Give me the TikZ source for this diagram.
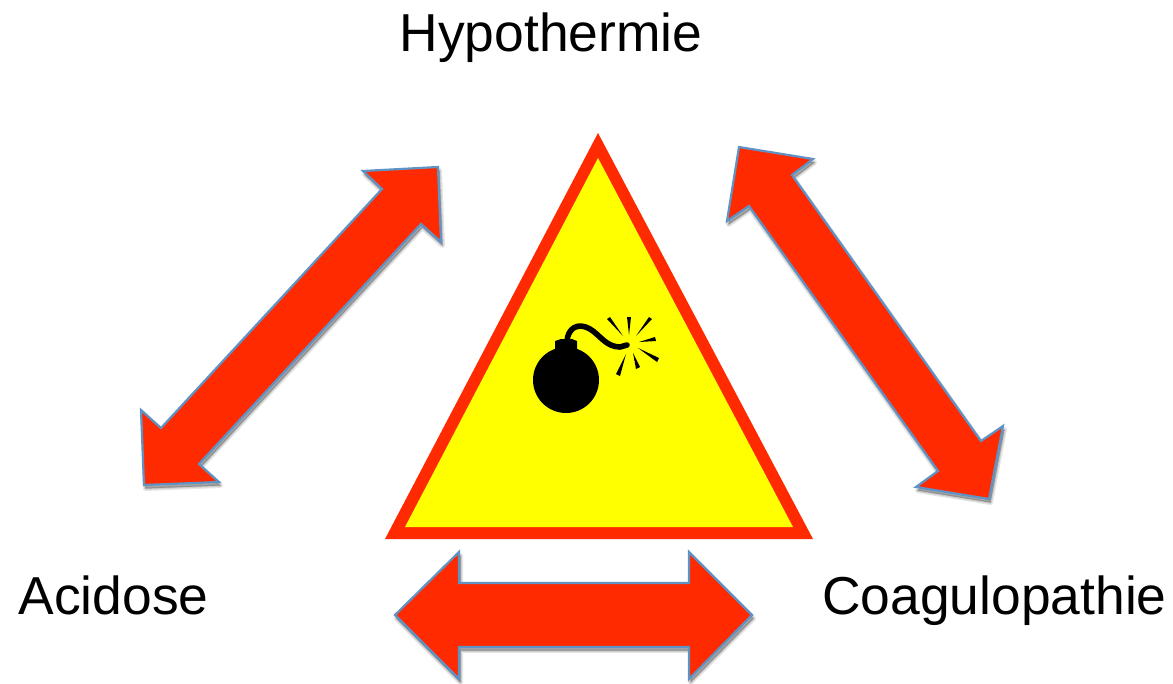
\documentclass[tikz,border=0pt]{standalone}
\usepackage{fontspec}
\setmainfont{Liberation Sans}
\definecolor{arrowred}{HTML}{FF2A00}
\definecolor{arrowedge}{HTML}{5F93C6}
\definecolor{warnyellow}{HTML}{FFFF00}
\tikzset{
  labeltext/.style={anchor=base,inner sep=0pt,font=\fontsize{53.4}{60}\selectfont,text=black},
  softshadow/.style={draw=black,fill=black,draw opacity=.10,fill opacity=.10,line join=round,shift={(1.5,3.5)}},
  bigarrow/.style={draw=arrowedge,fill=arrowred,line width=2.2pt,line join=miter,miter limit=3},
  spark/.style={fill=black,draw=none},
  fuse/.style={draw=black,line width=5.6pt,line cap=round,fill=none}
}
\newcommand{\softarrow}[1]{%
  \path[softshadow,line width=5pt] #1;
  \path[softshadow,line width=2.5pt] #1;
  \path[softshadow,line width=.5pt] #1;
  \path[bigarrow] #1;
}
\begin{document}
\begin{tikzpicture}[x=1pt,y=-1pt]
\useasboundingbox (0,0) rectangle (1173,683);
% warning triangle
\fill[arrowred] (598,133) -- (813,539) -- (385,539) -- cycle;
\fill[warnyellow] (598,158) -- (793,527) -- (405,527) -- cycle;
% bomb
\fill[black] (566,380) circle (33);
\fill[black] (555,349) -- (555,341) -- (561,339) -- (572,339) -- (577,341) -- (577,356) -- (555,356) -- cycle;
\draw[fuse] (567,341) .. controls (568,328) and (578,322) .. (590,329)
  .. controls (600,335) and (606,347) .. (620,347) -- (627,345);
\fill[spark] (607,319) -- (610,317) -- (623,336) -- cycle;
\fill[spark] (627,317) -- (631,317) -- (629,335) -- cycle;
\fill[spark] (649,317) -- (652,319) -- (636,336) -- cycle;
\fill[spark] (655,337) -- (656,341) -- (639,342) -- cycle;
\fill[spark] (659,358) -- (657,362) -- (638,348) -- cycle;
\fill[spark] (640,367) -- (636,369) -- (633,353) -- cycle;
\fill[spark] (620,376) -- (616,374) -- (626,354) -- cycle;
% double arrows
\softarrow{(438,167) -- (363,171) -- (382,189) -- (161,428) -- (141,410) -- (144,485) -- (219,482) -- (199,464) -- (421,224) -- (441,242) -- cycle}
\softarrow{(739,147) -- (813,159) -- (792,175) -- (981,441) -- (1003,426) -- (989,499) -- (916,487) -- (938,471) -- (749,206) -- (727,221) -- cycle}
\softarrow{(395,615) -- (459,552) -- (459,583) -- (689,583) -- (689,552) -- (752,615) -- (689,679) -- (689,647) -- (459,647) -- (459,679) -- cycle}
% labels
\node[labeltext] (hypo) at (551,51) {Hypothermie};
\node[labeltext] (acid) at (113.5,614) {Acidose};
\node[labeltext] (coag) at (994.5,614) {Coagulopathie};
\end{tikzpicture}
\end{document}
